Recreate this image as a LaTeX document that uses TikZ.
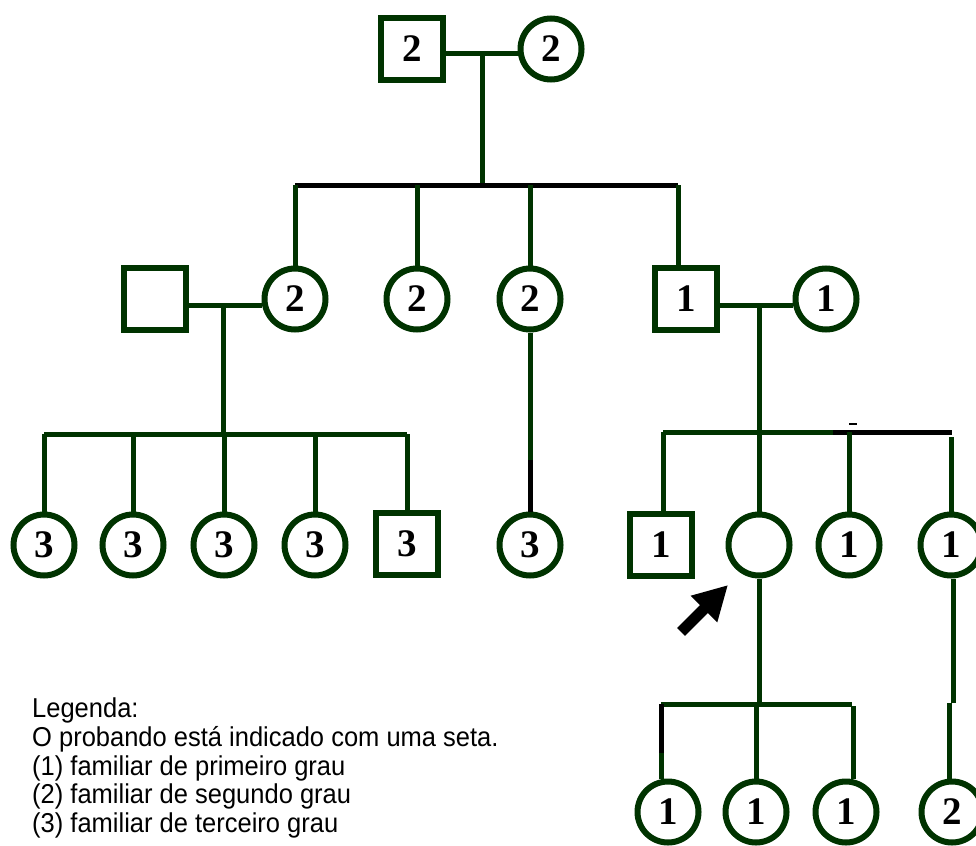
\documentclass[tikz,border=0pt]{standalone}
\usepackage{fontspec}
\setmainfont{Liberation Serif}
\newfontfamily\legfont{Liberation Sans}
\usetikzlibrary{arrows.meta}
\definecolor{pg}{HTML}{003300}
\newcommand{\legtxt}[1]{\scalebox{1}[1.07]{#1}}
\begin{document}
\begin{tikzpicture}[x=1pt,y=-1pt,
  fem/.style={circle,draw=pg,line width=6pt,minimum size=61pt,inner sep=0pt,
    font=\fontsize{39}{39}\selectfont\bfseries},
  mal/.style={rectangle,draw=pg,line width=6pt,minimum size=62pt,inner sep=0pt,
    font=\fontsize{39}{39}\selectfont\bfseries},
  ln/.style={draw=pg,line width=5pt,line cap=square},
  bl/.style={draw=black,line width=5pt,line cap=square},
  leg/.style={anchor=base west,inner sep=0pt,font=\legfont\fontsize{25.5}{28}\selectfont}]
\useasboundingbox (0,0) rectangle (976,845);
\clip (0,0) rectangle (976,845);

% generation I
\node[mal] (S1) at (412,49) {2};
\node[fem] (C1) at (551,49) {2};
% generation II
\node[mal] (S2) at (155,299) {};
\node[fem] (C2) at (295,299) {2};
\node[fem] (C3) at (417,299) {2};
\node[fem] (C4) at (530,299) {2};
\node[mal] (S3) at (686,299) {1};
\node[fem] (C5) at (826,299) {1};
% generation III
\node[fem] (C6) at (44,545) {3};
\node[fem] (C7) at (133,545) {3};
\node[fem] (C8) at (224,545) {3};
\node[fem] (C9) at (315,545) {3};
\node[mal] (S4) at (407,544) {3};
\node[fem] (C10) at (530,545) {3};
\node[mal] (S5) at (661,545) {1};
\node[fem] (C11) at (759,545) {};
\node[fem] (C12) at (849,545) {1};
\node[fem] (C13) at (951,545) {1};
% generation IV
\node[fem] (C14) at (668,812) {1};
\node[fem] (C15) at (756,812) {1};
\node[fem] (C16) at (846,812) {1};
\node[fem] (C17) at (952,812) {2};

% couple I
\coordinate (j1) at (482,54);
\coordinate (k1) at (482,185);
\draw[ln] (S1.east |- j1) -- (C1.west |- j1);
\draw[ln] (j1) -- (k1);
\coordinate (sib1L) at (295,185);
\coordinate (sib1R) at (678,185);
\draw[bl] (sib1L) -- (sib1R);
\draw[ln] (C2.north |- sib1L) -- (C2.north);
\draw[ln] (C3.north |- sib1L) -- (C3.north);
\draw[ln] (C4.north |- sib1L) -- (C4.north);
\draw[ln] (sib1R) -- (sib1R |- S3.north);

% couple S2-C2
\coordinate (j2) at (223,305);
\coordinate (k2) at (223,434);
\draw[ln] (S2.east |- j2) -- (C2.west |- j2);
\draw[ln] (j2) -- (k2);
\draw[ln] (C6.north |- k2) -- (S4.north |- k2);
\draw[ln] (C6.north |- k2) -- (C6.north);
\draw[ln] (C7.north |- k2) -- (C7.north);
\draw[ln] (C8.north |- k2) -- (C8.north);
\draw[ln] (C9.north |- k2) -- (C9.north);
\draw[ln] (S4.north |- k2) -- (S4.north);

% C4 -> C10
\coordinate (m10) at (530,460);
\draw[ln] (C4.south) -- (m10);
\draw[bl,line cap=butt] (m10) -- (C10.north);

% couple S3-C5
\coordinate (j3) at (759,305);
\coordinate (k3) at (759,432);
\draw[ln] (S3.east |- j3) -- (C5.west |- j3);
\draw[ln] (j3) -- (k3);
\coordinate (r1) at (663,432);
\coordinate (r2) at (833,432);
\coordinate (r3) at (952,432);
\coordinate (r4) at (849,432);
\coordinate (r5) at (951,437);
\draw[ln] (r1) -- (r2);
\draw[bl,line cap=butt] (r2) -- (r3);
\coordinate (tk1) at (849,424);
\coordinate (tk2) at (857,424);
\draw[black,line width=2pt] (tk1) -- (tk2);
\draw[ln] (r1) -- (r1 |- S5.north);
\draw[ln] (k3) -- (C11.north);
\draw[ln] (r4) -- (C12.north);
\draw[ln,line cap=butt] (r5) -- (C13.north);

% arrow to proband
\coordinate (atail) at (681,632);
\coordinate (ahead) at (728,585);
\draw[black,line width=11pt,-{Triangle[width=35pt,length=34pt]}] (atail) -- (ahead);

% proband's children
\coordinate (j4) at (759,704);
\draw[ln] (C11.south) -- (j4);
\coordinate (t1) at (661,704);
\coordinate (t2) at (852,704);
\draw[ln] (t1) -- (t2);
\coordinate (t1b) at (661,753);
\draw[bl,line cap=butt] (t1) -- (t1b);
\draw[ln,line cap=butt] (t1b) -- (C14.north -| t1b);
\draw[ln] (C15.north |- j4) -- (C15.north);
\coordinate (t3) at (853,706);
\draw[ln,line cap=butt] (t3) -- (C16.north -| t3);

% C13 -> C17
\coordinate (v1) at (953,703);
\coordinate (v2) at (949,703);
\draw[ln,line cap=butt] (C13.south -| v1) -- (v1);
\draw[ln,line cap=butt] (v2) -- (C17.north -| v2);

% legend
\node[leg] (leg1) at (32,717) {\legtxt{Legenda:}};
\node[leg] (leg2) at (32,746) {\legtxt{O probando está indicado com uma seta.}};
\node[leg] (leg3) at (32,775) {\legtxt{(1) familiar de primeiro grau}};
\node[leg] (leg4) at (32,803) {\legtxt{(2) familiar de segundo grau}};
\node[leg] (leg5) at (32,832) {\legtxt{(3) familiar de terceiro grau}};
\end{tikzpicture}
\end{document}
